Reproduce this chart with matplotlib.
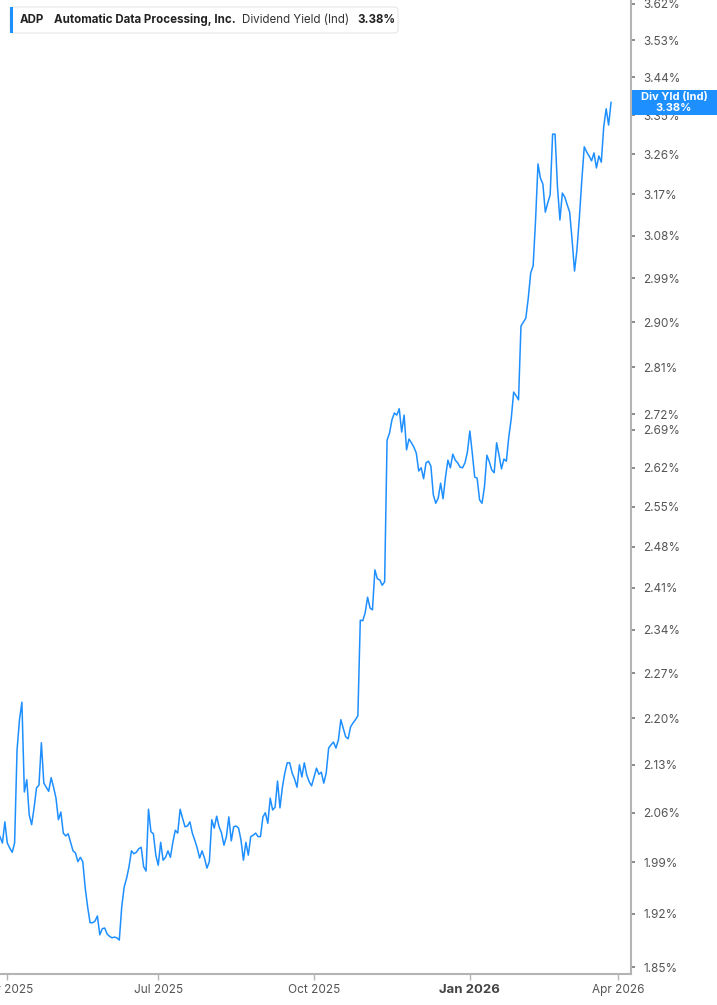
import matplotlib
matplotlib.use('Agg')
import matplotlib.pyplot as plt
from matplotlib.patches import Rectangle, FancyBboxPatch
import numpy as np
import pandas as pd

plt.rcParams['font.family'] = ['Inter', 'DejaVu Sans']

# ADP indicated dividend yield (%), one value per trading day, 2025-03-27 .. 2026-03-27
yields = [
    2.026, 2.017, 2.047, 2.017, 2.010, 2.004, 2.017, 2.152, 2.198, 2.225,
    2.090, 2.108, 2.057, 2.043, 2.067, 2.096, 2.100, 2.163, 2.103, 2.097,
    2.091, 2.111, 2.097, 2.081, 2.050, 2.061, 2.031, 2.027, 2.030, 2.018,
    2.006, 2.003, 1.991, 1.997, 1.991, 1.955, 1.929, 1.908, 1.908, 1.910,
    1.917, 1.892, 1.900, 1.901, 1.893, 1.890, 1.888, 1.889, 1.888, 1.885,
    1.929, 1.956, 1.968, 1.984, 2.006, 2.002, 2.004, 2.009, 2.011, 1.984,
    1.978, 2.065, 2.033, 2.030, 2.000, 1.986,
    2.018, 1.993, 1.997, 2.006, 1.997, 2.018, 2.035, 2.031, 2.065, 2.052,
    2.040, 2.041, 2.047, 2.031, 2.021, 2.010, 1.996, 2.006, 1.996, 1.982,
    1.991, 2.050, 2.038, 2.055, 2.040, 2.031, 2.014, 2.026, 2.054, 2.020,
    2.040, 2.041, 2.038, 2.021, 1.993, 2.018, 2.000, 2.026, 2.028, 2.031,
    2.026, 2.026, 2.054, 2.060, 2.045, 2.081, 2.064, 2.068, 2.106, 2.067,
    2.097, 2.118, 2.133, 2.133, 2.118, 2.109, 2.097, 2.130, 2.112, 2.133,
    2.115, 2.105, 2.099, 2.112, 2.125, 2.116, 2.119, 2.103, 2.118, 2.155,
    2.160, 2.164, 2.155, 2.167,
    2.198, 2.185, 2.172, 2.169, 2.187, 2.193, 2.198, 2.204, 2.356, 2.355,
    2.368, 2.394, 2.376, 2.373, 2.440, 2.425, 2.423, 2.414, 2.420, 2.671,
    2.684, 2.709, 2.722, 2.718, 2.730, 2.686, 2.718, 2.653, 2.673, 2.666,
    2.658, 2.647, 2.614, 2.620, 2.600, 2.629, 2.632, 2.623, 2.571, 2.556,
    2.565, 2.592, 2.564, 2.603, 2.634, 2.620, 2.645, 2.634, 2.629, 2.621,
    2.620, 2.629, 2.649, 2.688, 2.647, 2.603, 2.601, 2.562, 2.556, 2.585,
    2.643, 2.631, 2.616, 2.611, 2.666, 2.643, 2.618, 2.636, 2.632, 2.677,
    2.711,
    2.762, 2.755, 2.747, 2.892, 2.900, 2.908, 2.949, 3.001, 3.016, 3.114,
    3.238, 3.206, 3.193, 3.131, 3.151, 3.169, 3.306, 3.306, 3.186, 3.114,
    3.173, 3.164, 3.147, 3.131, 3.071, 3.005, 3.050, 3.120, 3.202, 3.277,
    3.265, 3.256, 3.245, 3.263, 3.229, 3.256, 3.242, 3.323, 3.365, 3.327,
    3.38,
]

holidays = ['2025-04-18', '2025-05-26', '2025-06-19', '2025-07-04', '2025-09-01',
            '2025-11-27', '2025-12-25', '2026-01-01', '2026-01-19', '2026-02-16']

y_ticks = [1.85, 1.92, 1.99, 2.06, 2.13, 2.20, 2.27, 2.34, 2.41, 2.48, 2.55, 2.62,
           2.69, 2.72, 2.81, 2.90, 2.99, 3.08, 3.17, 3.26, 3.35, 3.44, 3.53, 3.62]
x_months = ['2025-04', '2025-07', '2025-10', '2026-01', '2026-04']
x_labels = ['Apr 2025', 'Jul 2025', 'Oct 2025', 'Jan 2026', 'Apr 2026']

# trading calendar (x axis is trading-day based)
days = pd.bdate_range('2025-03-27', '2026-04-10', freq='C', holidays=holidays)
idx = np.arange(len(yields))
tick_pos = [int(np.argmax(days >= pd.Timestamp(m + '-01'))) for m in x_months]

W, H = 717, 1005
fig = plt.figure(figsize=(W / 100, H / 100), dpi=100)
ax = fig.add_axes([0, 31 / H, 631 / W, 1 - 31 / H])

blue = '#1E8FFF'
ax.plot(idx, yields, color=blue, lw=1.1, solid_joinstyle='round')

ax.set_yscale('log')
ax.set_ylim(1.841, 3.630)
ax.set_xlim(0, 259.2)
ax.yaxis.tick_right()
ax.set_yticks(y_ticks)
ax.set_yticklabels(['%.2f%%' % v for v in y_ticks])
ax.yaxis.set_minor_locator(matplotlib.ticker.NullLocator())
ax.set_xticks(tick_pos)
ax.set_xticklabels(x_labels)

for s in ['top', 'left']:
    ax.spines[s].set_visible(False)
for s in ['right', 'bottom']:
    ax.spines[s].set_color('#b4b4b4')
    ax.spines[s].set_linewidth(1.5)

ax.tick_params(axis='y', which='major', length=3, width=1.2, color='#777777',
               pad=6, labelsize=8.5, labelcolor='#555555')
ax.tick_params(axis='x', which='major', length=4, width=1.0, color='#b4b4b4',
               pad=3, labelsize=8.5, labelcolor='#555555')
for lab in ax.get_xticklabels():
    if lab.get_text() == 'Jan 2026':
        lab.set_fontweight('bold')
        lab.set_color('#444444')
        lab.set_fontsize(9.5)

# legend box top-left
fig.patches.append(FancyBboxPatch((10 / W, 1 - 33 / H), 388 / W, 26 / H,
                                  boxstyle='round,pad=0,rounding_size=0.004',
                                  transform=fig.transFigure, facecolor='white',
                                  edgecolor='#e6e6e6', lw=0.8, zorder=3))
fig.patches.append(Rectangle((10 / W, 1 - 33 / H), 3 / W, 26 / H,
                             transform=fig.transFigure, facecolor=blue,
                             edgecolor='none', zorder=4))
ty = 1 - 20 / H
fs = 8.3
fig.text(20 / W, ty, 'ADP', fontsize=fs, fontweight='bold', color='#222222', va='center', zorder=5)
fig.text(54 / W, ty, 'Automatic Data Processing, Inc.', fontsize=fs, fontweight='bold',
         color='#222222', va='center', zorder=5)
fig.text(242 / W, ty, 'Dividend Yield (Ind)', fontsize=fs, color='#333333', va='center', zorder=5)
fig.text(357 / W, ty, '3.38%', fontsize=fs, fontweight='bold', color='#222222', va='center', zorder=5)

# last value tag on the right axis
fig.patches.append(Rectangle((632 / W, 1 - 115 / H), 85 / W, 25 / H,
                             transform=fig.transFigure, facecolor=blue,
                             edgecolor='none', zorder=3))
fig.text(674 / W, 1 - 97 / H, 'Div Yld (Ind)', fontsize=8, fontweight='bold', color='white',
         ha='center', va='center', zorder=5)
fig.text(674 / W, 1 - 108 / H, '3.38%', fontsize=8, fontweight='bold', color='white',
         ha='center', va='center', zorder=5)

fig.savefig('out.png', dpi=100)
